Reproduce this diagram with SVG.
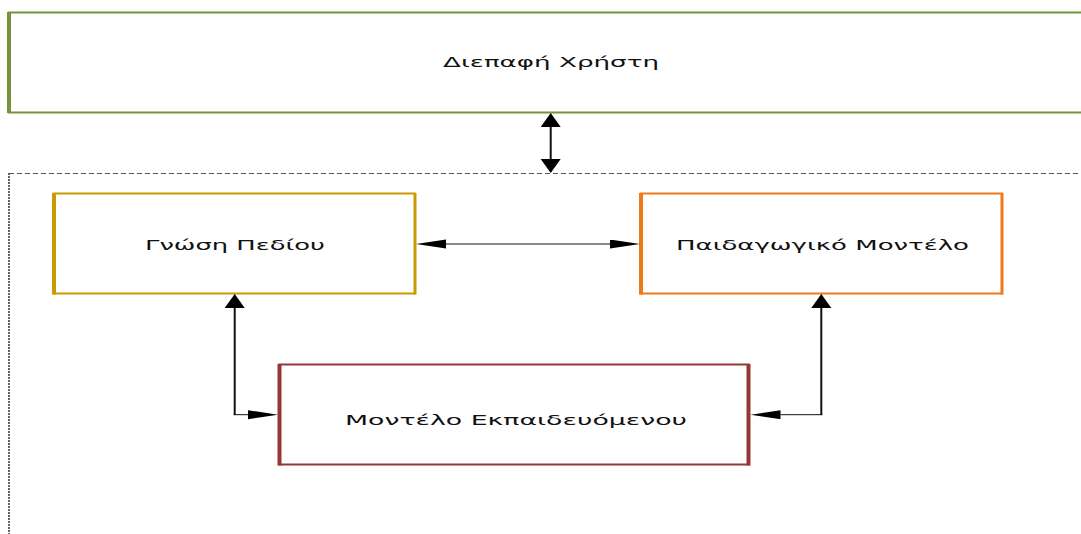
<svg xmlns="http://www.w3.org/2000/svg" width="1081" height="534" viewBox="0 0 1081 534">
<style>
.lbl{font-family:"DejaVu Sans","Noto Sans",sans-serif;font-size:14px;fill:#111;text-anchor:middle}
.box{fill:#fff;stroke-width:2}
.conn{fill:none;stroke:#111}
</style>
<defs>
<marker id="big" markerUnits="userSpaceOnUse" markerWidth="15" markerHeight="21" refX="0" refY="10" orient="auto-start-reverse" viewBox="0 0 15 21"><path d="M0,0 L14,10 L0,20 Z" fill="#000"/></marker>
<marker id="thin" markerUnits="userSpaceOnUse" markerWidth="31" markerHeight="10" refX="0" refY="4.5" orient="auto-start-reverse" viewBox="0 0 31 10"><path d="M0,0 L30,4.5 L0,9 Z" fill="#000"/></marker>
</defs>
<rect width="1081" height="534" fill="#fff"/>
<g id="container">
<path d="M9,173.5 L1081,173.5" fill="none" stroke="#555" stroke-width="1" stroke-dasharray="5,3"/>
<path d="M9,173 L9,534" fill="none" stroke="#333" stroke-width="1.5" stroke-dasharray="2,1"/>
</g>
<g id="user-interface">
<rect class="box" x="9" y="12.5" width="1080" height="100" stroke="#77933C"/>
<line x1="9" y1="12" x2="9" y2="113" stroke="#77933C" stroke-width="4"/>
<text class="lbl" x="551" y="67" textLength="216" lengthAdjust="spacingAndGlyphs">Διεπαφή Χρήστη</text>
</g>
<g id="domain-knowledge">
<rect class="box" x="54" y="193.5" width="361" height="100" stroke="#C89B00"/>
<line x1="54" y1="193" x2="54" y2="294.5" stroke="#C89B00" stroke-width="4"/>
<line x1="415" y1="193" x2="415" y2="294.5" stroke="#C89B00" stroke-width="3"/>
<text class="lbl" x="235" y="250" textLength="180" lengthAdjust="spacingAndGlyphs">Γνώση Πεδίου</text>
</g>
<g id="pedagogical-model">
<rect class="box" x="641" y="193.5" width="361" height="100" stroke="#EE7A1A"/>
<line x1="641" y1="193" x2="641" y2="294.5" stroke="#EE7A1A" stroke-width="4"/>
<line x1="1002" y1="193" x2="1002" y2="294.5" stroke="#EE7A1A" stroke-width="3"/>
<text class="lbl" x="822.5" y="250" textLength="293" lengthAdjust="spacingAndGlyphs">Παιδαγωγικό Μοντέλο</text>
</g>
<g id="learner-model">
<rect class="box" x="279.5" y="364.5" width="469" height="100" stroke="#953735"/>
<line x1="279.5" y1="364" x2="279.5" y2="465.5" stroke="#953735" stroke-width="4"/>
<line x1="748.5" y1="364" x2="748.5" y2="465.5" stroke="#953735" stroke-width="4"/>
<text class="lbl" x="516" y="425" textLength="342" lengthAdjust="spacingAndGlyphs">Μοντέλο Εκπαιδευόμενου</text>
</g>
<g id="connectors">
<line class="conn" x1="550.7" y1="127" x2="550.7" y2="159" stroke-width="2" marker-start="url(#big)" marker-end="url(#big)"/>
<line class="conn" x1="446" y1="244" x2="610" y2="244" stroke-width="1" stroke="#444" marker-start="url(#thin)" marker-end="url(#thin)"/>
<line class="conn" x1="234.7" y1="308" x2="234.7" y2="415" stroke-width="2" marker-start="url(#big)"/>
<line class="conn" x1="233.7" y1="414.7" x2="248" y2="414.7" stroke-width="1" stroke="#444" marker-end="url(#thin)"/>
<line class="conn" x1="821.3" y1="308" x2="821.3" y2="415" stroke-width="2" marker-start="url(#big)"/>
<line class="conn" x1="822.3" y1="414.7" x2="780.5" y2="414.7" stroke-width="1" stroke="#444" marker-end="url(#thin)"/>
</g>
</svg>
